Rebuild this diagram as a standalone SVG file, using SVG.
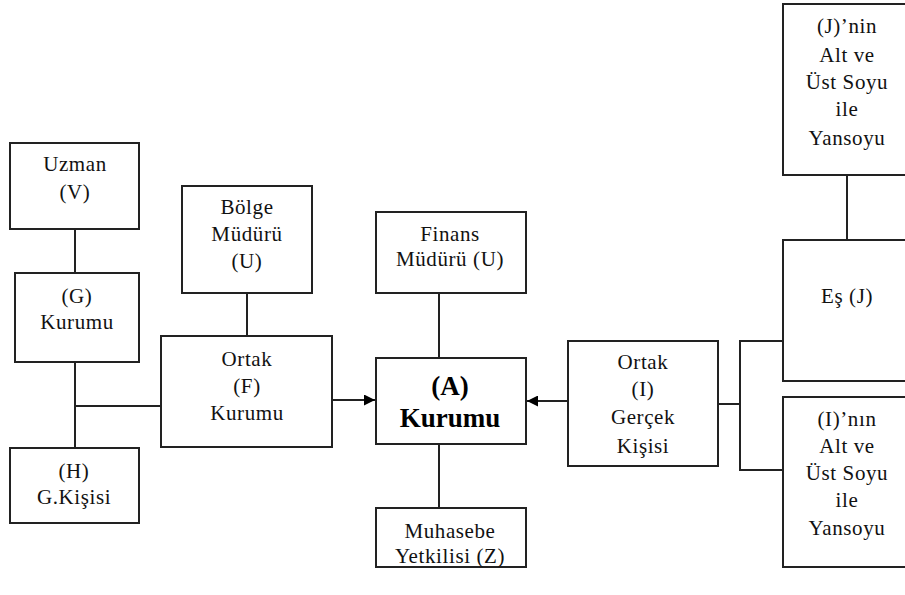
<svg xmlns="http://www.w3.org/2000/svg" width="905" height="595" viewBox="0 0 905 595">
<style>
.box{fill:#fff;stroke:#222;stroke-width:2}
.t{font-family:'Liberation Serif','Times New Roman','DejaVu Serif',serif;font-size:21px;letter-spacing:0.6px;fill:#111;text-anchor:middle}
.b{font-family:'Liberation Serif','Times New Roman','DejaVu Serif',serif;font-size:27px;font-weight:bold;fill:#000;text-anchor:middle}
.c{stroke:#222;stroke-width:2;fill:none}
</style>
<defs>
<marker id="ar" viewBox="0 0 10 10" refX="10" refY="5" markerWidth="11" markerHeight="11" markerUnits="userSpaceOnUse" orient="auto">
<path d="M0,0 L10,5 L0,10 Z" fill="#000"/>
</marker>
</defs>
<rect width="905" height="595" fill="#fff"/>
<g id="connectors">
<line class="c" x1="75" y1="229" x2="75" y2="273"/>
<line class="c" x1="75" y1="362" x2="75" y2="448"/>
<line class="c" x1="75" y1="406" x2="161" y2="406"/>
<line class="c" x1="247" y1="293" x2="247" y2="336"/>
<line class="c" x1="332" y1="400" x2="375" y2="400" marker-end="url(#ar)"/>
<line class="c" x1="439" y1="293" x2="439" y2="358"/>
<line class="c" x1="439" y1="444" x2="439" y2="508"/>
<line class="c" x1="568" y1="401" x2="527" y2="401" marker-end="url(#ar)"/>
<line class="c" x1="718" y1="404" x2="740" y2="404"/>
<polyline class="c" points="783,341 740,341 740,470 783,470"/>
<line class="c" x1="847" y1="175" x2="847" y2="240"/>
</g>
<g id="uzman"><rect class="box" x="10" y="143" width="129" height="86"/>
<text class="t" x="75" y="171">Uzman</text><text class="t" x="75" y="199">(V)</text></g>
<g id="g-kurumu"><rect class="box" x="15" y="273" width="124" height="89"/>
<text class="t" x="77" y="303">(G)</text><text class="t" x="77" y="329">Kurumu</text></g>
<g id="h-kisisi"><rect class="box" x="10" y="448" width="129" height="75"/>
<text class="t" x="74" y="478">(H)</text><text class="t" x="74" y="504">G.Kişisi</text></g>
<g id="bolge"><rect class="box" x="182" y="186" width="130" height="107"/>
<text class="t" x="247" y="214">Bölge</text><text class="t" x="247" y="241">Müdürü</text><text class="t" x="247" y="268">(U)</text></g>
<g id="f-kurumu"><rect class="box" x="161" y="336" width="171" height="111"/>
<text class="t" x="247" y="366">Ortak</text><text class="t" x="247" y="393">(F)</text><text class="t" x="247" y="420">Kurumu</text></g>
<g id="finans"><rect class="box" x="376" y="212" width="150" height="81"/>
<text class="t" x="450" y="241">Finans</text><text class="t" x="450" y="266">Müdürü (U)</text></g>
<g id="a-kurumu"><rect class="box" x="376" y="358" width="150" height="86"/>
<text class="b" x="450" y="395">(A)</text><text class="b" x="450" y="427">Kurumu</text></g>
<g id="muhasebe"><rect class="box" x="376" y="508" width="150" height="59"/>
<text class="t" x="450" y="538">Muhasebe</text><text class="t" x="450" y="563">Yetkilisi (Z)</text></g>
<g id="i-gercek"><rect class="box" x="568" y="341" width="150" height="125"/>
<text class="t" x="643" y="369">Ortak</text><text class="t" x="643" y="396">(I)</text><text class="t" x="643" y="424">Gerçek</text><text class="t" x="643" y="453">Kişisi</text></g>
<g id="j-soy"><rect class="box" x="783" y="4" width="130" height="171"/>
<text class="t" x="847" y="33">(J)’nin</text><text class="t" x="847" y="62">Alt ve</text><text class="t" x="847" y="89">Üst Soyu</text><text class="t" x="847" y="116">ile</text><text class="t" x="847" y="145">Yansoyu</text></g>
<g id="es"><rect class="box" x="783" y="240" width="130" height="141"/>
<text class="t" x="847" y="303">Eş (J)</text></g>
<g id="i-soy"><rect class="box" x="783" y="397" width="130" height="170"/>
<text class="t" x="847" y="426">(I)’nın</text><text class="t" x="847" y="453">Alt ve</text><text class="t" x="847" y="480">Üst Soyu</text><text class="t" x="847" y="507">ile</text><text class="t" x="847" y="535">Yansoyu</text></g>
</svg>
